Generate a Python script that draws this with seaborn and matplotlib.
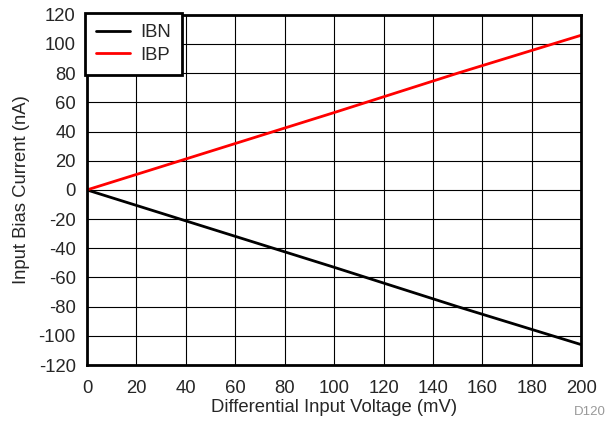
import pandas as pd
import numpy as np
import seaborn as sns
import matplotlib.pyplot as plt

# Values
voltage = [0, 50, 100, 150, 200]
ibn = [0, -26.5, -53, -80, -106]
ibp = [0, 26.5, 53, 80, 106]

df = pd.concat([
    pd.DataFrame({'Voltage': voltage, 'Current': ibn, 'Series': 'IBN'}),
    pd.DataFrame({'Voltage': voltage, 'Current': ibp, 'Series': 'IBP'}),
], ignore_index=True)

sns.set_style('white')
plt.rcParams['font.family'] = ['Liberation Sans', 'DejaVu Sans']
plt.rcParams['axes.unicode_minus'] = False
fs = 13.3

fig = plt.figure(figsize=(6.08, 4.23), dpi=100)
ax = fig.add_axes([0.143, 0.137, 0.813, 0.828])

sns.lineplot(data=df, x='Voltage', y='Current', hue='Series',
             palette={'IBN': 'black', 'IBP': 'red'}, linewidth=2, ax=ax)

ax.set_xlim(0, 200)
ax.set_ylim(-120, 120)
ax.set_xticks(np.arange(0, 201, 20))
ax.set_yticks(np.arange(-120, 121, 20))
ax.grid(True, color='black', linewidth=0.8)
ax.set_axisbelow(True)
ax.tick_params(axis='x', length=0, labelsize=fs, pad=10.5)
ax.tick_params(axis='y', length=0, labelsize=fs, pad=8)
for s in ax.spines.values():
    s.set_linewidth(2)
    s.set_color('black')

ax.set_xlabel('Differential Input Voltage (mV)', fontsize=fs, labelpad=1.5)
ax.set_ylabel('Input Bias Current (nA)', fontsize=fs, labelpad=6)

leg = ax.legend(loc='upper left', bbox_to_anchor=(-0.004, 1.005), fancybox=False,
                framealpha=1, edgecolor='black', fontsize=fs, handlelength=1.85,
                borderpad=0.6, labelspacing=0.3, handletextpad=0.55,
                borderaxespad=0)
leg.get_frame().set_linewidth(2)
leg.set_title(None)

fig.text(0.944, 0.02, 'D120', color='#999999', fontsize=9.5)

plt.savefig('out.png', dpi=100)
